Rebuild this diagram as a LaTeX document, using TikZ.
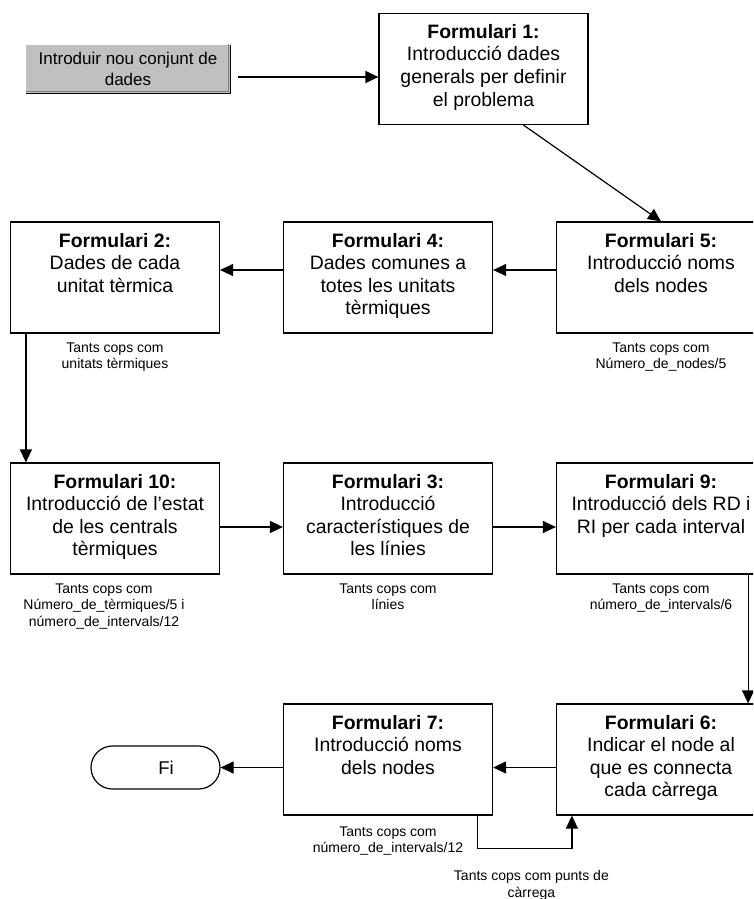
\documentclass[tikz,border=0pt]{standalone}
\usepackage{fontspec}
\setmainfont{Liberation Sans}
\usetikzlibrary{arrows.meta, positioning}

\definecolor{btngray}{RGB}{192,192,192}
\definecolor{btnshade}{RGB}{128,128,128}

\newcommand{\formtext}[2]{\parbox[c][111pt][t]{209pt}{\centering\fontsize{19.4}{22.5}\selectfont\rule{0pt}{25pt}\textbf{#1}\\#2}}

\begin{document}
\begin{tikzpicture}[x=1pt,y=1pt,node distance=241pt and 273pt,on grid,
        form/.style={draw, line width=1.2pt, inner sep=0pt, fill=white},
        note/.style={align=center, inner sep=0pt, font=\fontsize{14}{16.5}\selectfont},
        flow/.style={line width=1.2pt, -{Triangle[length=13pt,width=12pt]}},
        button/.style={fill=btngray, minimum width=204pt, minimum height=48pt, inner sep=0pt,
            align=center, font=\fontsize{17}{21}\selectfont},
        terminal/.style={draw, line width=1.2pt, rounded corners=21.5pt, minimum width=129pt,
            minimum height=43pt, inner sep=0pt, font=\fontsize{18.5}{22}\selectfont}]
        \useasboundingbox (0,0) rectangle (753,-899);
        \clip (0,0) rectangle (753,-899);

        % first row
        \node[form]   (f1)  at (483.5,-69)     {\formtext{Formulari 1:}{Introducció dades\\generals per definir\\el problema}};
        \node[button] (btn) [left=355.5pt of f1] {Introduir nou conjunt de\\dades};

        % second row
        \node[form] (f5) [below right=208.5pt and 177.5pt of f1] {\formtext{Formulari 5:}{Introducció noms\\dels nodes}};
        \node[form] (f4) [left=of f5]  {\formtext{Formulari 4:}{Dades comunes a\\totes les unitats\\tèrmiques}};
        \node[form] (f2) [left=of f4]  {\formtext{Formulari 2:}{Dades de cada\\unitat tèrmica}};

        % third row
        \node[form] (f10) [below=of f2]  {\formtext{Formulari 10:}{Introducció de l’estat\\de les centrals\\tèrmiques}};
        \node[form] (f3)  [right=of f10] {\formtext{Formulari 3:}{Introducció\\característiques de\\les línies}};
        \node[form] (f9)  [right=of f3]  {\formtext{Formulari 9:}{Introducció dels RD i\\RI per cada interval}};

        % fourth row
        \node[form]     (f6) [below=of f9] {\formtext{Formulari 6:}{Indicar el node al\\que es connecta\\cada càrrega}};
        \node[form]     (f7) [left=of f6]  {\formtext{Formulari 7:}{Introducció noms\\dels nodes}};
        \node[terminal] (fi) [left=232.5pt of f7, yshift=-8pt] {\hspace*{21pt}Fi};

        % notes under the forms
        \node[note, anchor=north] (n2)  at ([yshift=-9pt]f2.south)  {Tants cops com\\unitats tèrmiques};
        \node[note, anchor=north] (n5)  at ([yshift=-9pt]f5.south)  {Tants cops com\\Número\_de\_nodes/5};
        \node[note, anchor=north] (n10) at ([xshift=-11pt,yshift=-9pt]f10.south) {Tants cops com\\Número\_de\_tèrmiques/5 i\\número\_de\_intervals/12};
        \node[note, anchor=north] (n3)  at ([yshift=-9pt]f3.south)  {Tants cops com\\línies};
        \node[note, anchor=north] (n9)  at ([yshift=-9pt]f9.south)  {Tants cops com\\número\_de\_intervals/6};
        \node[note, anchor=north] (n7)  at ([yshift=-11pt]f7.south) {Tants cops com\\número\_de\_intervals/12};
        \node[note, anchor=north] (n6)  at ([xshift=-24.5pt,yshift=-55pt]f6.south west) {Tants cops com punts de\\càrrega};

        % button edges
        \draw[btnshade, line width=1pt] ([shift={(-2pt,1pt)}]btn.north east) -- ([shift={(-2pt,2pt)}]btn.south east) -- ([yshift=2pt]btn.south west);
        \draw[line width=1.2pt] (btn.north east) -- (btn.south east) -- (btn.south west);

        % connectors
        \draw[flow, shorten <=8pt] ([yshift=-8pt]btn.east) -- ([yshift=-8pt]f1.west);
        \draw[flow] ([xshift=40pt]f1.south) -- (f5.north);
        \draw[flow] ([yshift=7.5pt]f5.west) -- ([yshift=7.5pt]f4.east);
        \draw[flow] ([yshift=7.5pt]f4.west) -- ([yshift=7.5pt]f2.east);
        \draw[flow] ([xshift=16pt]f2.south west) -- ([xshift=16pt]f10.north west);
        \draw[flow] ([yshift=-8.5pt]f10.east) -- ([yshift=-8.5pt]f3.west);
        \draw[flow] ([yshift=-8.5pt]f3.east) -- ([yshift=-8.5pt]f9.west);
        \draw[flow] ([xshift=-18pt]f9.south east) -- ([xshift=-18pt]f6.north east);
        \draw[flow] ([yshift=-8pt]f6.west) -- ([yshift=-8pt]f7.east);
        \draw[flow] ([yshift=-8pt]f7.west) -- (fi);
        \draw[flow] ([xshift=-16pt]f7.south east) -- ++(0,-33) -| ([xshift=16pt]f6.south west);
    \end{tikzpicture}
\end{document}
